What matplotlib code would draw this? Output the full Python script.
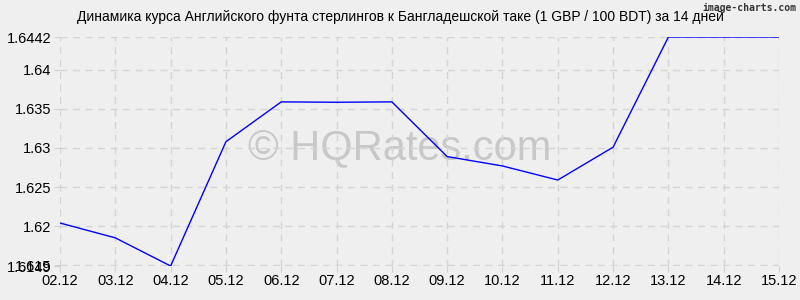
import matplotlib.pyplot as plt

# данные
dates = ["02.12", "03.12", "04.12", "05.12", "06.12", "07.12", "08.12",
         "09.12", "10.12", "11.12", "12.12", "13.12", "14.12", "15.12"]
rates = [1.6204, 1.6185, 1.6149, 1.6308, 1.6359, 1.63585, 1.6359,
         1.6289, 1.6277, 1.6259, 1.6301, 1.6442, 1.6442, 1.6442]
yticks = [1.6149, 1.615, 1.62, 1.625, 1.63, 1.635, 1.64, 1.6442]
ylabels = ["1.6149", "1.615", "1.62", "1.625", "1.63", "1.635", "1.64", "1.6442"]

plt.rcParams['font.family'] = ['Liberation Sans', 'DejaVu Sans']

fig = plt.figure(figsize=(8, 3), dpi=100, facecolor="#efefef")
ax = fig.add_axes([60 / 800, 1 - 266 / 300, 719 / 800, 229 / 300])
ax.set_facecolor("#efefef")

x = range(len(dates))
ax.plot(x, rates, color="#0000ff", lw=1, zorder=3)

ax.set_xlim(0, len(dates) - 1)
ax.set_ylim(1.6149, 1.6442)
ax.set_xticks(list(x))
ax.set_xticklabels(dates, fontsize=10.5)
ax.set_yticks(yticks)
ax.set_yticklabels(ylabels, fontsize=10.5)
ax.tick_params(axis="both", length=4, color="#d0d0d0", pad=2)

ax.grid(True, color="#d4d4d4", linestyle=(0, (5, 4)), lw=1)
for s in ax.spines.values():
    s.set_visible(False)

fig.text(0.5, 1 - 17 / 300, "Динамика курса Английского фунта стерлингов к Бангладешской таке (1 GBP / 100 BDT) за 14 дней",
         fontsize=10, ha="center", va="center")

# водяной знак под линией
ax.text(0.5, 1 - 148 / 300, "© HQRates.com", transform=fig.transFigure,
        ha="center", va="center", fontsize=30, color="#c8c8c8", zorder=1)
fig.text(0.996, 0.99, "image-charts.com", ha="right", va="top", fontsize=7,
         color="#333333", family="DejaVu Sans Mono", weight="bold")

fig.savefig("out.png", dpi=100, facecolor=fig.get_facecolor())
